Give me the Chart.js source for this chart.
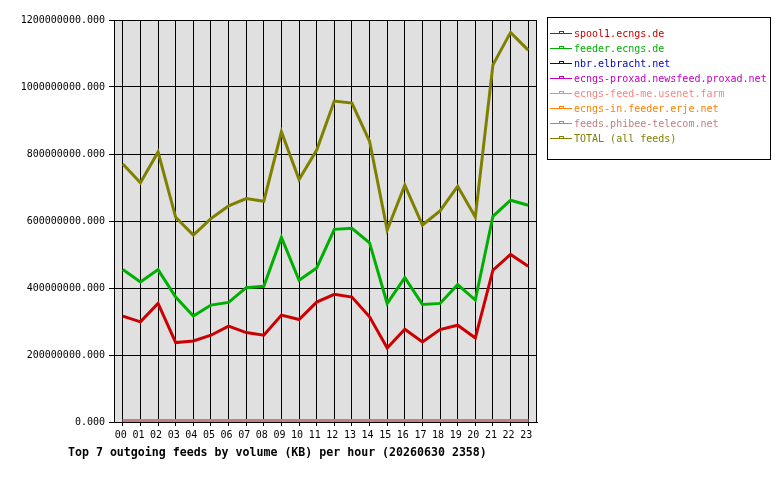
<!DOCTYPE html>
<html>
<head>
<meta charset="utf-8">
<script src="https://cdn.jsdelivr.net/npm/chart.js@4/dist/chart.umd.min.js"></script>
<style>
  html, body { margin: 0; padding: 0; background: #fff; }
  #wrap { position: relative; width: 780px; height: 480px; }
  #c { position: absolute; left: 0; top: 0; }
  #legend {
    position: absolute; left: 547px; top: 17px; width: 222px; height: 133px;
    border: 1px solid #000; box-sizing: content-box;
    font-family: "DejaVu Sans Mono", monospace; font-size: 10px;
    padding-top: 8px;
  }
  .row { height: 15px; line-height: 15px; position: relative; white-space: nowrap; }
  .sym { position: absolute; left: 2px; top: 3px; }
  .txt { position: absolute; left: 26px; top: 0; }
  #title {
    position: absolute; left: 68px; top: 445px;
    font-family: "DejaVu Sans Mono", monospace; font-weight: bold; font-size: 11.6px;
    white-space: nowrap;
  }
</style>
</head>
<body>
<div id="wrap">
  <canvas id="c" width="780" height="480"></canvas>
  <div id="legend"></div>
  <div id="title">Top 7 outgoing feeds by volume (KB) per hour (20260630 2358)</div>
</div>
<script>
const hours = ["00","01","02","03","04","05","06","07","08","09","10","11","12","13","14","15","16","17","18","19","20","21","22","23"];
const seriesNames = ["spool1.ecngs.de","feeder.ecngs.de","nbr.elbracht.net","ecngs-proxad.newsfeed.proxad.net","ecngs-feed-me.usenet.farm","ecngs-in.feeder.erje.net","feeds.phibee-telecom.net","TOTAL (all feeds)"];
const spool1 = [316e6,299e6,354e6,237e6,242e6,259e6,286e6,267e6,259e6,319e6,306e6,358e6,381e6,373e6,314e6,221e6,277e6,239e6,276e6,289e6,251e6,453e6,500e6,465e6];
const feeder = [455e6,418e6,455e6,373e6,316e6,349e6,357e6,401e6,405e6,551e6,423e6,460e6,575e6,578e6,535e6,354e6,431e6,351e6,354e6,410e6,364e6,614e6,662e6,647e6];
const nbr = [4.5e6,4.5e6,4.5e6,4.5e6,4.5e6,4.5e6,4.5e6,4.5e6,4.5e6,4.5e6,4.5e6,4.5e6,4.5e6,4.5e6,4.5e6,4.5e6,4.5e6,4.5e6,4.5e6,4.5e6,4.5e6,4.5e6,4.5e6,4.5e6];
const proxad = [4.5e6,4.5e6,4.5e6,4.5e6,4.5e6,4.5e6,4.5e6,4.5e6,4.5e6,4.5e6,4.5e6,4.5e6,4.5e6,4.5e6,4.5e6,4.5e6,4.5e6,4.5e6,4.5e6,4.5e6,4.5e6,4.5e6,4.5e6,4.5e6];
const usenetFarm = [4.5e6,4.5e6,4.5e6,4.5e6,4.5e6,4.5e6,4.5e6,4.5e6,4.5e6,4.5e6,4.5e6,4.5e6,4.5e6,4.5e6,4.5e6,4.5e6,4.5e6,4.5e6,4.5e6,4.5e6,4.5e6,4.5e6,4.5e6,4.5e6];
const erje = [4.5e6,4.5e6,4.5e6,4.5e6,4.5e6,4.5e6,4.5e6,4.5e6,4.5e6,4.5e6,4.5e6,4.5e6,4.5e6,4.5e6,4.5e6,4.5e6,4.5e6,4.5e6,4.5e6,4.5e6,4.5e6,4.5e6,4.5e6,4.5e6];
const phibee = [4.5e6,4.5e6,4.5e6,4.5e6,4.5e6,4.5e6,4.5e6,4.5e6,4.5e6,4.5e6,4.5e6,4.5e6,4.5e6,4.5e6,4.5e6,4.5e6,4.5e6,4.5e6,4.5e6,4.5e6,4.5e6,4.5e6,4.5e6,4.5e6];
const total = [770e6,714e6,806e6,611e6,558e6,607e6,645e6,667e6,659e6,866e6,724e6,812e6,958e6,952e6,838e6,573e6,707e6,588e6,630e6,704e6,612e6,1066e6,1163e6,1110e6];
const yTicks = [0,200000000,400000000,600000000,800000000,1000000000,1200000000];

const colors = ["#cc0000","#00b000","#0000c0","#c000c0","#ff8080","#ff8000","#c08080","#808000"];
const allData = [spool1, feeder, nbr, proxad, usenetFarm, erje, phibee, total];

// HTML legend
const leg = document.getElementById('legend');
seriesNames.forEach((n, i) => {
  const row = document.createElement('div'); row.className = 'row';
  const c = colors[i];
  row.innerHTML =
    '<svg class="sym" width="24" height="8" viewBox="0 0 24 8">' +
    '<line x1="0" y1="4.5" x2="22" y2="4.5" stroke="' + c + '" stroke-width="1" shape-rendering="crispEdges"/>' +
    '<rect x="9.5" y="2.5" width="4" height="2" fill="none" stroke="' + c + '" stroke-width="1" shape-rendering="crispEdges"/>' +
    '</svg>';
  const t = document.createElement('span'); t.className = 'txt'; t.style.color = c; t.textContent = n;
  row.appendChild(t); leg.appendChild(row);
});

const bgPlugin = {
  id: 'bg',
  beforeDraw(chart) {
    const {ctx, chartArea: a} = chart;
    ctx.save(); ctx.fillStyle = '#e0e0e0';
    ctx.fillRect(a.left, a.top, a.right - a.left, a.bottom - a.top);
    ctx.restore();
  },
  beforeDatasetsDraw(chart) {
    const {ctx, chartArea: a} = chart;
    ctx.save(); ctx.strokeStyle = '#000'; ctx.lineWidth = 1;
    ctx.strokeRect(Math.round(a.left) + 0.5, Math.round(a.top) + 0.5, Math.round(a.right - a.left) - 1, Math.round(a.bottom - a.top));
    ctx.restore();
  }
};

new Chart(document.getElementById('c'), {
  type: 'line',
  data: {
    labels: hours,
    datasets: allData.map((d, i) => ({
      label: seriesNames[i], data: d, borderColor: colors[i], backgroundColor: colors[i],
      borderWidth: 3, pointRadius: 0, tension: 0, fill: false,
      order: i === 6 ? -1 : i
    }))
  },
  options: {
    responsive: false, animation: false,
    layout: { padding: { top: 20, left: 0, right: 243, bottom: 28 } },
    plugins: { legend: { display: false }, tooltip: { enabled: false }, title: { display: false } },
    scales: {
      x: {
        type: 'category', offset: true,
        grid: { offset: false, color: '#000', lineWidth: 1, drawTicks: true, tickLength: 4 },
        border: { color: '#000', width: 1 },
        ticks: { color: '#000', font: { family: 'DejaVu Sans Mono', size: 10 }, padding: 3, labelOffset: -2, maxRotation: 0, autoSkip: false },
        afterFit(s) { s.height = 30; }
      },
      y: {
        min: 0, max: 1200000000,
        afterBuildTicks(s) { s.ticks = yTicks.map(v => ({ value: v })); },
        grid: { color: '#000', lineWidth: 1, tickLength: 5 },
        border: { color: '#000', width: 1 },
        ticks: { color: '#000', font: { family: 'DejaVu Sans Mono', size: 10 }, padding: 4, callback: v => Number(v).toFixed(3) },
        afterFit(s) { s.width = 114; }
      }
    }
  },
  plugins: [bgPlugin]
});
</script>
</body>
</html>
